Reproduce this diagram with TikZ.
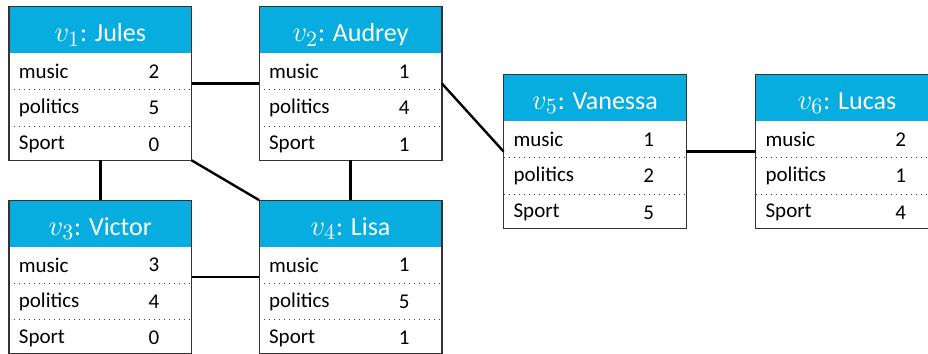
\documentclass[tikz,border=0pt]{standalone}
\usepackage{fontspec}
\setmainfont{Carlito}
\usepackage{tikz}
\usetikzlibrary{positioning}
\definecolor{headblue}{RGB}{8,173,224}
\tikzset{
	personbox/.style={minimum width=91pt, minimum height=76.5pt, inner sep=0pt},
	headbox/.style={fill=headblue, minimum width=91pt, minimum height=23pt, inner sep=0pt},
	headtext/.style={text=white, inner sep=0pt, font=\fontsize{13}{15}\selectfont},
	rowbox/.style={minimum width=91pt, minimum height=17.83pt, inner sep=0pt},
	attr/.style={anchor=west, inner sep=0pt, xshift=4.8pt, font=\fontsize{10.5}{12}\selectfont},
	val/.style={inner sep=0pt, font=\fontsize{10.5}{12}\selectfont},
	rowsep/.style={dotted, line width=0.5pt, black!75},
	boxline/.style={line width=0.6pt, black!80},
	link/.style={line width=1.2pt}
}
\def\vname#1{{\fontsize{15}{17}\selectfont$v_{#1}$}}
\def\person(#1)(#2)#3#4#5#6{
	\node[personbox] (#1) at (#2) {};
	\node[headbox, anchor=north] (#1-head) at (#1.north) {};
	\node[headtext] (#1-title) at ([yshift=-2.5pt]#1-head.center) {#3};
	\node[rowbox, anchor=north] (#1-music) at (#1-head.south) {};
	\node[rowbox, anchor=north] (#1-politics) at (#1-music.south) {};
	\node[rowbox, anchor=north] (#1-sport) at (#1-politics.south) {};
	\draw[rowsep] (#1-music.south west) -- (#1-music.south east);
	\draw[rowsep] (#1-politics.south west) -- (#1-politics.south east);
	\node[attr] at (#1-music.west) {music};
	\node[attr] at (#1-politics.west) {politics};
	\node[attr] at (#1-sport.west) {Sport};
	\node[val] at ([xshift=72.5pt]#1-music.west) {#4};
	\node[val] at ([xshift=72.5pt]#1-politics.west) {#5};
	\node[val] at ([xshift=72.5pt]#1-sport.west) {#6};
	\draw[boxline] (#1.south west) rectangle (#1.north east);
}

\begin{document}
\begin{tikzpicture}[x=0.5pt, y=-0.5pt]
		%%%%% START %%%%%
		\useasboundingbox (0, 0) rectangle (928, 354);
		
		\person(v1)(100.3, 83.5){\vname{1}: Jules}{2}{5}{0}
		\person(v2)(350.5, 83.5){\vname{2}: Audrey}{1}{4}{1}
		\person(v3)(100.3, 277){\vname{3}: Victor}{3}{4}{0}
		\person(v4)(350.5, 277){\vname{4}: Lisa}{1}{5}{1}
		\person(v5)(595, 151.5){\vname{5}: Vanessa}{1}{2}{5}
		\person(v6)(847, 151.5){\vname{6}: Lucas}{2}{1}{4}
		
		\draw[link] (v1.east) -- (v2.west);
		\draw[link] (v2.east) -- (v5.west);
		\draw[link] (v5.east) -- (v6.west);
		\draw[link] (v1.south) -- (v3.north);
		\draw[link] (v2.south) -- (v4.north);
		\draw[link] (v1.south east) -- (v4.north west);
		\draw[link] (v3.east) -- (v4.west);
		%%%%% END %%%%%
\end{tikzpicture}
\end{document}
